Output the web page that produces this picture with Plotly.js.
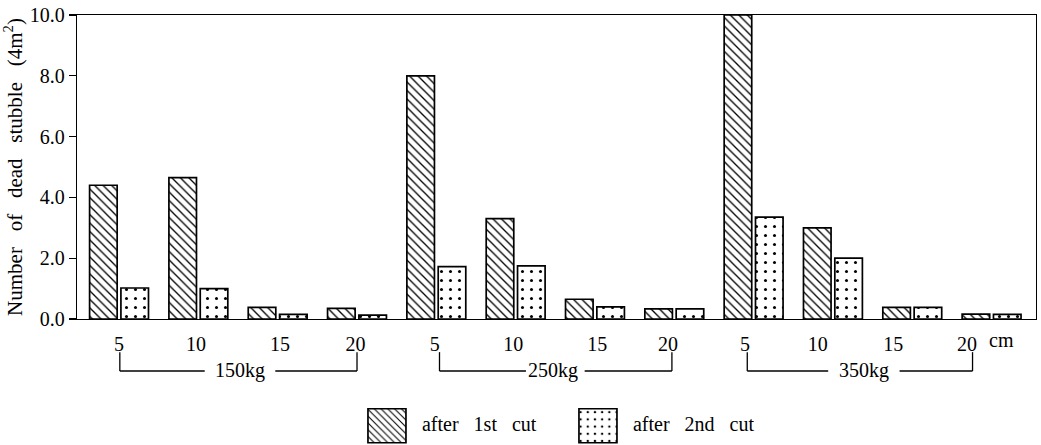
<!DOCTYPE html>
<html>
<head>
<meta charset="utf-8">
<script src="https://cdn.plot.ly/plotly-3.0.1.min.js"></script>
<style>html,body{margin:0;padding:0;background:#fff;}#chart{width:1041px;height:445px;}</style>
</head>
<body>
<div id="chart"></div>
<script>
// Data
const groups = ['150kg', '250kg', '350kg'];
const heights = ['5', '10', '15', '20'];
const tickLabels = ['5','10','15','20','5','10','15','20','5','10','15','20'];
const firstCut  = [4.4, 4.65, 0.38, 0.35, 8.0, 3.3, 0.65, 0.33, 10.0, 3.0, 0.38, 0.16];
const secondCut = [1.02, 1.0, 0.15, 0.13, 1.72, 1.75, 0.4, 0.33, 3.35, 2.0, 0.38, 0.15];
const seriesNames = ['after\u00a0\u00a0 1st\u00a0\u00a0 cut', 'after\u00a0\u00a0 2nd\u00a0\u00a0 cut'];
const yTitle = 'Number\u00a0\u00a0 of\u00a0\u00a0 dead\u00a0\u00a0 stubble\u00a0\u00a0 (4m<sup>2</sup>)';

const idx = firstCut.map((_, i) => i);
const FONT = "'Liberation Serif', 'Times New Roman', Times, serif";
const FS = 20;

const traces = [
  {
    type: 'bar', name: seriesNames[0], x: idx, y: firstCut,
    marker: {color: '#fff', line: {color: '#000', width: 1.7},
      pattern: {shape: '\\', size: 6, solidity: 0.22, fgcolor: '#000', bgcolor: '#fff'}}
  },
  {
    type: 'bar', name: seriesNames[1], x: idx, y: secondCut,
    marker: {color: '#fff', line: {color: '#000', width: 1.7},
      pattern: {shape: '.', size: 9, solidity: 0.09, fgcolor: '#000', bgcolor: '#fff'}}
  }
];

// bracket geometry (layout only)
const bTop = -0.109, bBot = -0.171;
const brackets = [
  {a: 0.01, b: 3.0, l1: 1.08, l2: 1.97, t: 1.52},
  {a: 4.04, b: 6.97, l1: 5.13, l2: 5.87, t: 5.47},
  {a: 7.92, b: 10.76, l1: 8.94, l2: 9.84, t: 9.39}
];
const shapes = [];
const annotations = [];
brackets.forEach((br, i) => {
  const ln = {color: '#000', width: 1.3};
  shapes.push({type: 'line', xref: 'x', yref: 'paper', x0: br.a, x1: br.a, y0: bTop, y1: bBot, line: ln});
  shapes.push({type: 'line', xref: 'x', yref: 'paper', x0: br.b, x1: br.b, y0: bTop, y1: bBot, line: ln});
  shapes.push({type: 'line', xref: 'x', yref: 'paper', x0: br.a, x1: br.l1, y0: bBot, y1: bBot, line: ln});
  shapes.push({type: 'line', xref: 'x', yref: 'paper', x0: br.l2, x1: br.b, y0: bBot, y1: bBot, line: ln});
  annotations.push({xref: 'x', yref: 'paper', x: br.t, y: bBot, text: groups[i], showarrow: false,
    xanchor: 'center', yanchor: 'middle', font: {family: FONT, size: FS, color: '#000'}});
});
annotations.push({xref: 'x', yref: 'paper', x: 11.12, y: -0.07, text: 'cm', showarrow: false,
  xanchor: 'center', yanchor: 'middle', font: {family: FONT, size: FS, color: '#000'}});

const layout = {
  width: 1041, height: 445,
  margin: {l: 77, r: 5, t: 15, b: 126, autoexpand: false},
  paper_bgcolor: '#fff', plot_bgcolor: '#fff',
  font: {family: FONT, size: FS, color: '#000'},
  barmode: 'group', bargap: 0.21, bargroupgap: 0.12,
  showlegend: true,
  legend: {orientation: 'h', x: 0.318, xanchor: 'left', y: -0.342, yanchor: 'middle',
    font: {family: FONT, size: FS, color: '#000'}, entrywidth: 166, itemwidth: 30},
  xaxis: {
    range: [-0.53, 11.56], showgrid: false, zeroline: false, automargin: false,
    showline: true, linecolor: '#000', linewidth: 1.3, mirror: true,
    ticks: '', tickmode: 'array', ticklabelstandoff: 7,
    tickvals: [0, 0.97, 2.03, 2.98, 3.98, 4.97, 6.03, 6.92, 7.89, 8.81, 9.76, 10.69],
    ticktext: tickLabels, tickfont: {family: FONT, size: FS, color: '#000'}
  },
  yaxis: {
    range: [0, 10], showgrid: false, zeroline: false, automargin: false,
    showline: true, linecolor: '#000', linewidth: 1.3, mirror: true,
    ticks: 'outside', ticklen: 7, tickwidth: 1.3, tickcolor: '#000',
    tickvals: [0, 2, 4, 6, 8, 10], tickformat: '.1f',
    tickfont: {family: FONT, size: FS, color: '#000'},
    title: {text: yTitle, font: {family: FONT, size: 21, color: '#000'}, standoff: 6}
  },
  shapes: shapes,
  annotations: annotations
};

Plotly.newPlot('chart', traces, layout, {displayModeBar: false, staticPlot: true}).then(gd => {
  // enlarge the legend swatches to match the printed key
  const sb = gd.querySelector('.legend .scrollbox');
  if (sb) sb.removeAttribute('clip-path');
  const lg = gd.querySelector('.legend');
  if (lg) lg.removeAttribute('clip-path');
  gd.querySelectorAll('.legend .traces').forEach(tr => {
    const path = tr.querySelector('.legendpoints path');
    const text = tr.querySelector('.legendtext');
    if (!path || !text) return;
    const pr = path.getBoundingClientRect();
    const tr2 = text.getBoundingClientRect();
    const cx = pr.left + pr.width / 2, cy = pr.top + pr.height / 2;
    const tcy = tr2.top + tr2.height / 2;
    const x0 = tr2.left - 16 - 38 - cx, x1 = tr2.left - 16 - cx;
    const y0 = tcy - 15 - cy, y1 = tcy + 19 - cy;
    path.setAttribute('d', 'M' + x1 + ',' + y1 + 'H' + x0 + 'V' + y0 + 'H' + x1 + 'Z');
  });
});
</script>
</body>
</html>
